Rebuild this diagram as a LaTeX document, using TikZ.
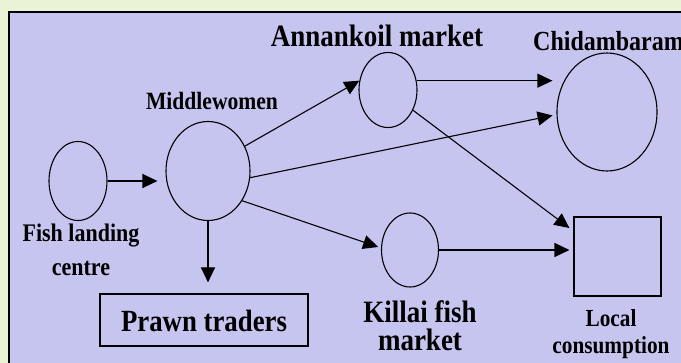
\documentclass[tikz,border=0pt]{standalone}
\usepackage{fontspec}
\setmainfont{Liberation Serif}
\usetikzlibrary{shapes.geometric,arrows.meta,calc}
\definecolor{outerbg}{RGB}{234,243,214}
\definecolor{innerbg}{RGB}{198,197,240}
\newcommand{\fs}[2]{\fontsize{#1}{#2}\selectfont}
\tikzset{
  oval/.style={draw, line width=1.1pt, ellipse, inner sep=0pt},
  boxnode/.style={draw, line width=1.1pt, rectangle, inner sep=0pt},
  lbl/.style={align=center, inner sep=0pt, yscale=1.15, transform shape},
  flow/.style={line width=1.1pt, -{Triangle[length=15pt,width=14pt]}},
}
\begin{document}
\begin{tikzpicture}[x=1pt,y=-1pt]
\path[use as bounding box] (0,0) rectangle (681,363);
\clip (0,0) rectangle (681,363);
\fill[outerbg] (0,0) rectangle (681,363);
\filldraw[fill=innerbg, draw=black, line width=2pt] (9,12) rectangle (690,372);

% nodes
\node[oval, minimum width=58pt, minimum height=79pt] (fish) at (78,181) {};
\node[oval, minimum width=84pt, minimum height=99pt] (mw) at (208,171) {};
\node[oval, minimum width=58pt, minimum height=75pt] (an) at (388,90) {};
\node[oval, minimum width=100pt, minimum height=118pt] (chid) at (607,112) {};
\node[oval, minimum width=57pt, minimum height=74pt] (kil) at (410,250) {};
\node[boxnode, minimum width=87pt, minimum height=79pt] (loc) at (617.5,256.5) {};
\node[boxnode, minimum width=208pt, minimum height=52pt] (prawn) at (204,320) {};

% labels
\node[lbl, font=\bfseries\fs{21.6}{24}] (tmw) at (212,101) {Middlewomen};
\node[lbl, font=\bfseries\fs{27}{30}] (tan) at (377,36) {Annankoil market};
\node[lbl, anchor=west, font=\bfseries\fs{24}{27}] (tchid) at (533,41) {Chidambaram};
\node[lbl, font=\bfseries\fs{22}{30}] (tfish) at (81,250) {Fish landing\\centre};
\node[lbl, font=\bfseries\fs{26.8}{30}] (tprawn) at (204,321) {Prawn traders};
\node[lbl, font=\bfseries\fs{27}{24.5}] (tkil) at (420,326) {Killai fish\\market};
\node[lbl, font=\bfseries\fs{21.3}{23.5}] (tloc) at (611,334) {Local\\consumption};

% connectors
\draw[flow, shorten >=8pt] (fish.east) -- (fish.east -| mw.west);
\draw[flow] (mw.34) -- (an.162);
\draw[flow, shorten >=4pt] (mw.-9) -- (chid.-177);
\draw[flow, shorten >=3pt] (mw.-41) -- (kil.176);
\draw[flow, shorten >=11pt] (mw.south) -- (mw.south |- prawn.north);
\draw[flow, shorten >=4pt] (an.18) -- (an.18 -| chid.west);
\draw[flow, shorten >=5pt] (an.-39) -- (loc.150);
\draw[flow, shorten >=4pt] (kil.east) -- (kil.east -| loc.west);
\end{tikzpicture}
\end{document}
